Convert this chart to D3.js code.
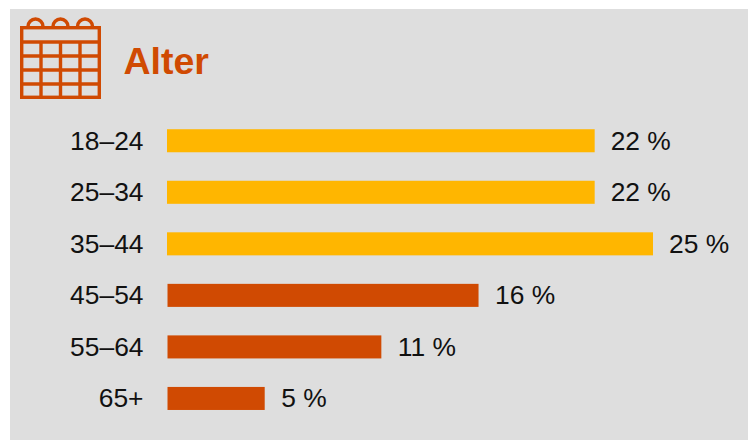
<!DOCTYPE html>
<html>
<head>
<meta charset="utf-8">
<script src="https://cdnjs.cloudflare.com/ajax/libs/d3/7.8.5/d3.min.js"></script>
<style>
html, body { margin: 0; padding: 0; background: #fff; }
svg { display: block; }
text { font-family: "Liberation Sans", Arial, sans-serif; }
</style>
</head>
<body>
<svg id="chart" width="748" height="440"></svg>
<script>
const chartTitle = "Alter";
const ageGroups = ["18–24", "25–34", "35–44", "45–54", "55–64", "65+"];
const shares = [22, 22, 25, 16, 11, 5];
const barColors = ["#ffb600", "#ffb600", "#ffb600", "#d04a02", "#d04a02", "#d04a02"];
const accent = "#d04a02";

const svg = d3.select("#chart");
svg.append("rect").attr("x", 10).attr("y", 9).attr("width", 738).attr("height", 431).attr("fill", "#dedede");

const x = d3.scaleLinear().domain([0, 25]).range([167, 653]);
const y = d3.scaleBand().domain(ageGroups).range([115, 424.2]).paddingInner(0.553).paddingOuter(0.276);

// The three older age groups sit a touch further right
const nudge = i => (i >= 3 ? 0.5 : 0);

// Calendar icon beside the heading
const icon = svg.append("g").attr("fill", "none").attr("stroke", accent).attr("stroke-width", 3.4);
icon.append("rect").attr("x", 21.7).attr("y", 27.7).attr("width", 77.6).attr("height", 69.6);
[42, 56, 70, 84].forEach(v => icon.append("line").attr("x1", 21.7).attr("x2", 99.3).attr("y1", v).attr("y2", v));
[41, 60.5, 80].forEach(v => icon.append("line").attr("x1", v).attr("x2", v).attr("y1", 42).attr("y2", 97.3));
[35.5, 60.5, 85].forEach(cx => icon.append("path")
  .attr("d", d3.arc()({ innerRadius: 7.5, outerRadius: 7.5, startAngle: -Math.PI / 2, endAngle: Math.PI / 2 }))
  .attr("transform", `translate(${cx},26.5)`));

svg.append("text").attr("x", 123.5).attr("y", 74).attr("font-size", 37.5).attr("font-weight", 700)
  .attr("fill", accent).text(chartTitle);

svg.append("g").selectAll("rect").data(shares).join("rect")
  .attr("x", (d, i) => x(0) + nudge(i))
  .attr("y", (d, i) => y(ageGroups[i]))
  .attr("width", d => x(d) - x(0))
  .attr("height", y.bandwidth())
  .attr("fill", (d, i) => barColors[i]);

svg.append("g").selectAll("text").data(ageGroups).join("text")
  .attr("x", 143.5)
  .attr("y", d => y(d) + y.bandwidth() / 2 + 9)
  .attr("text-anchor", "end")
  .attr("font-size", 26.4)
  .attr("fill", "#111")
  .text(d => d);

svg.append("g").selectAll("text").data(shares).join("text")
  .attr("x", (d, i) => x(d) + 16 + nudge(i) * 2)
  .attr("y", (d, i) => y(ageGroups[i]) + y.bandwidth() / 2 + 9)
  .attr("font-size", 26.4)
  .attr("fill", "#111")
  .text(d => `${d} %`);
</script>
</body>
</html>
